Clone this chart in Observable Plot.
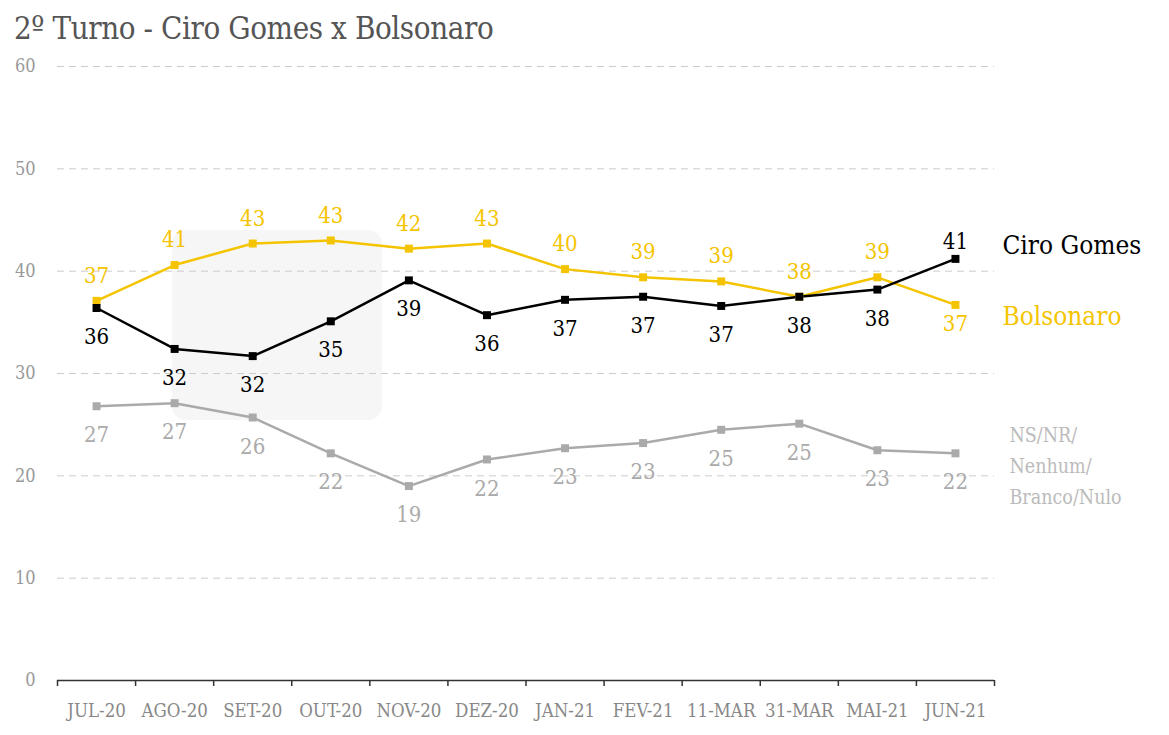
<!DOCTYPE html>
<html>
<head>
<meta charset="utf-8">
<script src="https://cdn.jsdelivr.net/npm/d3@7"></script>
<script src="https://cdn.jsdelivr.net/npm/@observablehq/plot@0.6"></script>
<style>
  body { margin: 0; background: #fff; width: 1169px; height: 735px; overflow: hidden; position: relative; font-family: "DejaVu Serif", serif; font-stretch: condensed; }
  #title { position: absolute; left: 14px; top: 10px; font-size: 31px; color: #555; letter-spacing: -0.4px; white-space: nowrap; }
  #chart { position: absolute; left: 0; top: 50px; }
  #wm-box { position: absolute; left: 172px; top: 230px; width: 210px; height: 190px; background: #f6f6f6; border-radius: 14px; }
</style>
</head>
<body>
<div id="wm-box"></div>
<div id="title">2º Turno - Ciro Gomes x Bolsonaro</div>
<div id="chart"></div>
<script>
const months = ["JUL-20","AGO-20","SET-20","OUT-20","NOV-20","DEZ-20","JAN-21","FEV-21","11-MAR","31-MAR","MAI-21","JUN-21"];
const ciro = [36.4, 32.4, 31.7, 35.1, 39.1, 35.7, 37.2, 37.5, 36.6, 37.5, 38.2, 41.2];
const bolsonaro = [37.1, 40.6, 42.7, 43.0, 42.2, 42.7, 40.2, 39.4, 39.0, 37.5, 39.4, 36.7];
const nsnr = [26.8, 27.1, 25.7, 22.2, 19.0, 21.6, 22.7, 23.2, 24.5, 25.1, 22.5, 22.2];
const ciroLabels = [36, 32, 32, 35, 39, 36, 37, 37, 37, 38, 38, 41];
const bolsonaroLabels = [37, 41, 43, 43, 42, 43, 40, 39, 39, 38, 39, 37];
const nsnrLabels = [27, 27, 26, 22, 19, 22, 23, 23, 25, 25, 23, 22];
const yTicks = [0, 10, 20, 30, 40, 50, 60];

const YELLOW = "#F5C400", BLACK = "#000000", GRAY = "#AAAAAA";

function series(name, values, labels) {
  return values.map((v, i) => ({name, i, month: months[i], value: v, label: labels[i], last: i === values.length - 1}));
}
const C = series("Ciro Gomes", ciro, ciroLabels);
const B = series("Bolsonaro", bolsonaro, bolsonaroLabels);
const N = series("NS/NR/\nNenhum/\nBranco/Nulo", nsnr, nsnrLabels);

const idx = d3.range(months.length);
const bounds = d3.range(months.length + 1).map(k => k - 0.5);
const lblFont = 22;

const plot = Plot.plot({
  width: 1169,
  height: 685,
  marginLeft: 57,
  marginRight: 175,
  marginTop: 16,
  marginBottom: 55,
  style: {background: "transparent", fontFamily: "'DejaVu Serif', serif", fontStretch: "condensed"},
  x: {type: "linear", domain: [-0.5, months.length - 0.5], axis: null},
  y: {domain: [0, 60], axis: null},
  marks: [
    Plot.ruleY(yTicks.filter(t => t > 0), {stroke: "#cccccc", strokeDasharray: "7,5", strokeWidth: 1}),
    Plot.axisY({ticks: yTicks, tickSize: 0, tickPadding: 22, fontSize: 18, color: "#999", label: null}),
    Plot.ruleY([0], {stroke: "#333", strokeWidth: 1.5}),
    Plot.axisX({ticks: bounds, tickSize: 6, tickFormat: () => "", stroke: "#333", strokeWidth: 1.5, label: null}),
    Plot.axisX({ticks: idx, tickSize: 0, tickPadding: 23, tickFormat: i => months[i], fontSize: 18.5, color: "#888", label: null}),

    Plot.line(N, {x: "i", y: "value", stroke: GRAY, strokeWidth: 2.5}),
    Plot.line(B, {x: "i", y: "value", stroke: YELLOW, strokeWidth: 2.5}),
    Plot.line(C, {x: "i", y: "value", stroke: BLACK, strokeWidth: 2.5}),
    Plot.dot(N, {x: "i", y: "value", symbol: "square", r: 4.5, fill: GRAY}),
    Plot.dot(B, {x: "i", y: "value", symbol: "square", r: 4.5, fill: YELLOW}),
    Plot.dot(C, {x: "i", y: "value", symbol: "square", r: 4.5, fill: BLACK}),

    Plot.text(B.filter(d => !d.last), {x: "i", y: "value", text: "label", dy: -25, fill: YELLOW, fontSize: lblFont}),
    Plot.text(B.filter(d => d.last), {x: "i", y: "value", text: "label", dy: 19, fill: YELLOW, fontSize: lblFont}),
    Plot.text(C.filter(d => !d.last), {x: "i", y: "value", text: "label", dy: 29, fill: BLACK, fontSize: lblFont}),
    Plot.text(C.filter(d => d.last), {x: "i", y: "value", text: "label", dy: -17, fill: BLACK, fontSize: lblFont}),
    Plot.text(N, {x: "i", y: "value", text: "label", dy: 29, fill: GRAY, fontSize: lblFont}),

    Plot.text(C.filter(d => d.last), {x: "i", y: "value", text: "name", dx: 47, dy: -13, textAnchor: "start", fill: BLACK, fontSize: 26}),
    Plot.text(B.filter(d => d.last), {x: "i", y: "value", text: "name", dx: 47, dy: 12, textAnchor: "start", fill: YELLOW, fontSize: 26}),
    Plot.text(N.filter(d => d.last), {x: "i", y: "value", text: "name", dx: 54, dy: 10, textAnchor: "start", fill: "#bbbbbb", fontSize: 19.5, lineHeight: 1.6})
  ]
});
document.getElementById("chart").appendChild(plot);
</script>
</body>
</html>
